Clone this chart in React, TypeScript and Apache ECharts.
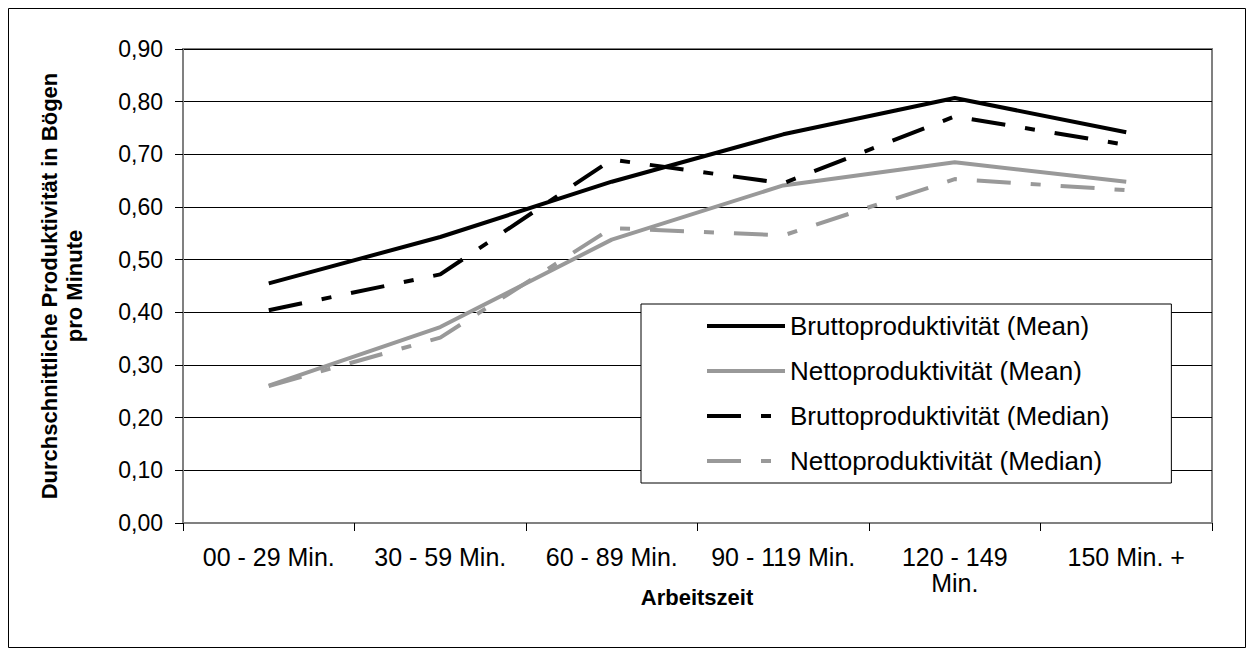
import React, { useEffect, useRef } from 'react';
import * as echarts from 'echarts';

const categories = ['00 - 29 Min.', '30 - 59 Min.', '60 - 89 Min.', '90 - 119 Min.', '120 - 149\nMin.', '150 Min. +'];
const bruttoMean = [0.455, 0.543, 0.648, 0.738, 0.807, 0.742];
const nettoMean = [0.261, 0.372, 0.538, 0.641, 0.685, 0.648];
const bruttoMedian = [0.404, 0.472, 0.69, 0.645, 0.772, 0.718];
const nettoMedian = [0.26, 0.352, 0.56, 0.546, 0.653, 0.632];
const seriesNames = [
  'Bruttoproduktivität (Mean)',
  'Nettoproduktivität (Mean)',
  'Bruttoproduktivität (Median)',
  'Nettoproduktivität (Median)',
];
const yAxisTitle = 'Durchschnittliche Produktivität in Bögen\npro Minute';
const xAxisTitle = 'Arbeitszeit';

const FONT = '"Liberation Sans", Arial, sans-serif';
const BLACK = '#000000';
const GRAY = '#999999';
const DASH = [34, 20, 10, 20];

export default function App() {
  const ref = useRef<HTMLDivElement>(null);
  useEffect(() => {
    if (!ref.current) return;
    const chart = echarts.init(ref.current, null, { renderer: 'svg' });
    const mk = (name: string, data: number[], color: string, dashed: boolean) => ({
      name,
      type: 'line',
      data,
      symbol: 'none',
      lineStyle: { color, width: 4, type: dashed ? DASH : 'solid', cap: 'butt' },
      itemStyle: { color },
      z: 3,
    });
    chart.setOption({
      animation: false,
      backgroundColor: '#ffffff',
      textStyle: { fontFamily: FONT },
      grid: {
        left: 175,
        top: 41,
        width: 1029,
        height: 474,
        show: true,
        borderColor: '#808080',
        borderWidth: 2,
        backgroundColor: 'transparent',
      },
      xAxis: {
        type: 'category',
        data: categories,
        boundaryGap: true,
        axisLine: { lineStyle: { color: '#808080', width: 2 } },
        axisTick: { show: true, length: 8, lineStyle: { color: '#000', width: 1 } },
        axisLabel: { color: '#000', fontSize: 25, fontFamily: FONT, margin: 21, lineHeight: 26, interval: 0 },
        splitLine: { show: false },
      },
      yAxis: {
        type: 'value',
        min: 0,
        max: 0.9,
        interval: 0.1,
        axisLine: { show: true, lineStyle: { color: '#808080', width: 2 } },
        axisTick: { show: true, length: 8, lineStyle: { color: '#000', width: 1 } },
        axisLabel: {
          color: '#000',
          fontSize: 23,
          fontFamily: FONT,
          margin: 20,
          formatter: (v: number) => v.toFixed(2).replace('.', ','),
        },
        splitLine: { show: true, lineStyle: { color: '#000', width: 1 } },
      },
      legend: {
        orient: 'vertical',
        left: 633,
        top: 296,
        padding: [9, 62, 9, 64],
        itemGap: 19,
        itemWidth: 78,
        itemHeight: 14,
        backgroundColor: '#ffffff',
        borderColor: '#000000',
        borderWidth: 1,
        itemStyle: { opacity: 0 },
        lineStyle: { width: 4 },
        textStyle: { color: '#000', fontSize: 26, fontFamily: FONT, lineHeight: 26 },
        data: seriesNames,
        z: 10,
      },
      graphic: [
        {
          type: 'rect',
          shape: { x: 0.5, y: 0.5, width: 1237, height: 639 },
          style: { fill: 'none', stroke: '#000', lineWidth: 1 },
          silent: true,
        },
        {
          type: 'text',
          x: 54,
          y: 278,
          rotation: Math.PI / 2,
          style: {
            text: yAxisTitle,
            fontSize: 22,
            fontWeight: 'bold',
            fontFamily: FONT,
            fill: '#000',
            align: 'center',
            verticalAlign: 'middle',
            lineHeight: 25,
          },
        },
        {
          type: 'text',
          x: 689,
          y: 589,
          style: {
            text: xAxisTitle,
            fontSize: 22,
            fontWeight: 'bold',
            fontFamily: FONT,
            fill: '#000',
            align: 'center',
            verticalAlign: 'middle',
          },
        },
      ],
      series: [
        mk(seriesNames[0], bruttoMean, BLACK, false),
        mk(seriesNames[1], nettoMean, GRAY, false),
        mk(seriesNames[2], bruttoMedian, BLACK, true),
        mk(seriesNames[3], nettoMedian, GRAY, true),
      ],
    });
    return () => chart.dispose();
  }, []);
  return <div ref={ref} style={{ width: 1238, height: 640 }} />;
}
